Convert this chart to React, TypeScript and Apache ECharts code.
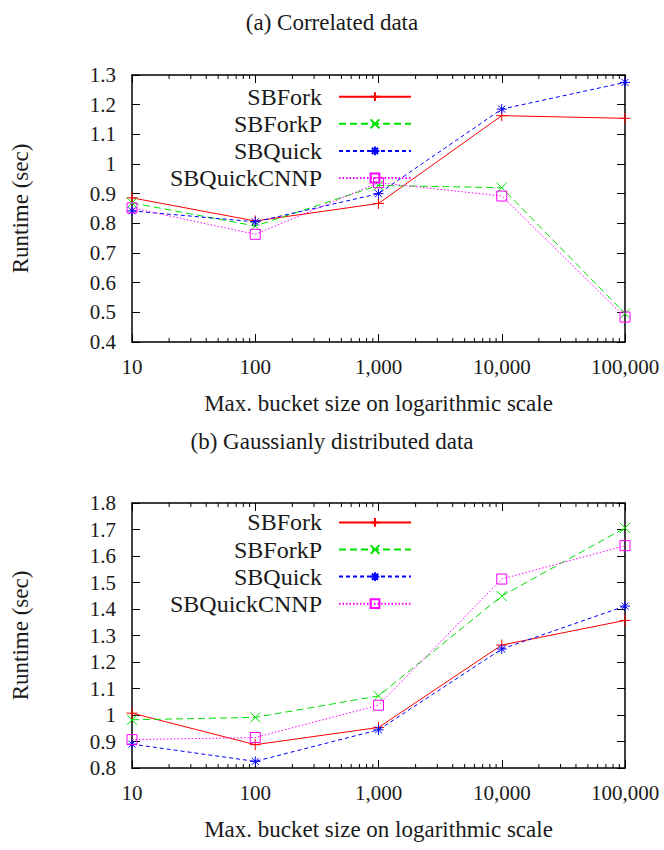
import React, { useEffect, useRef } from "react";
import * as echarts from "echarts";

const bucketSizes = [10, 100, 1000, 10000, 100000];
const seriesNames = ["SBFork", "SBForkP", "SBQuick", "SBQuickCNNP"];

// (a) Correlated data
const sbForkA = [0.886, 0.808, 0.867, 1.163, 1.154];
const sbForkPA = [0.869, 0.791, 0.928, 0.92, 0.496];
const sbQuickA = [0.842, 0.805, 0.9, 1.185, 1.275];
const sbQuickCNNPA = [0.852, 0.763, 0.937, 0.892, 0.484];

// (b) Gaussianly distributed data
const sbForkB = [1.007, 0.888, 0.953, 1.264, 1.357];
const sbForkPB = [0.982, 0.991, 1.072, 1.449, 1.706];
const sbQuickB = [0.89, 0.825, 0.944, 1.249, 1.411];
const sbQuickCNNPB = [0.907, 0.915, 1.037, 1.513, 1.639];

const minorTicks = [
  20, 30, 40, 50, 60, 70, 80, 90,
  200, 300, 400, 500, 600, 700, 800, 900,
  2000, 3000, 4000, 5000, 6000, 7000, 8000, 9000,
  20000, 30000, 40000, 50000, 60000, 70000, 80000, 90000,
];

const titleA = "(a) Correlated data";
const titleB = "(b) Gaussianly distributed data";
const xName = "Max. bucket size on logarithmic scale";
const yName = "Runtime (sec)";

const FONT = "'Liberation Serif', 'Times New Roman', serif";
const TXT = "#1a1a1a";

const styles = [
  { color: "#ff0000", type: "solid", symbol: "path://M0,5L10,5M5,0L5,10", size: 11 },
  { color: "#00e000", type: [7, 4], symbol: "path://M0,0L10,10M10,0L0,10", size: 10 },
  { color: "#0000ff", type: [4, 3], symbol: "path://M0,5L10,5M5,0L5,10M1.5,1.5L8.5,8.5M8.5,1.5L1.5,8.5", size: 10 },
  { color: "#ff00ff", type: [1.5, 2], symbol: "path://M0,0L10,0L10,10L0,10Z", size: 10 },
];

function makeLines(values: number[][], gi: number) {
  return values.map((vals, i) => ({
    type: "line",
    name: seriesNames[i],
    xAxisIndex: gi * 2,
    yAxisIndex: gi * 2,
    data: bucketSizes.map((b, j) => [b, vals[j]]),
    symbol: styles[i].symbol,
    symbolSize: styles[i].size,
    clip: false,
    color: styles[i].color,
    lineStyle: { color: styles[i].color, width: 1, type: styles[i].type },
    itemStyle: { color: "rgba(0,0,0,0)", borderColor: styles[i].color, borderWidth: 1 },
    z: 2 + i,
  }));
}

function minorTickSeries(gi: number, yMin: number, yMax: number) {
  return {
    type: "custom",
    xAxisIndex: gi * 2,
    yAxisIndex: gi * 2,
    silent: true,
    clip: false,
    z: 10,
    data: minorTicks.map((v) => [v, yMin]),
    renderItem: (params: any, api: any) => {
      const v = api.value(0);
      const b = api.coord([v, yMin]);
      const t = api.coord([v, yMax]);
      return {
        type: "group",
        children: [
          { type: "line", shape: { x1: b[0], y1: b[1], x2: b[0], y2: b[1] - 4 }, style: { stroke: "#000", lineWidth: 1 } },
          { type: "line", shape: { x1: t[0], y1: t[1], x2: t[0], y2: t[1] + 4 }, style: { stroke: "#000", lineWidth: 1 } },
        ],
      };
    },
  };
}

function xAxes(gi: number) {
  const base = {
    type: "log",
    logBase: 10,
    min: 10,
    max: 100000,
    gridIndex: gi,
    splitLine: { show: false },
    axisLine: { show: true, lineStyle: { color: "#000", width: 1.5 } },
    axisTick: { show: true, inside: true, length: 8, lineStyle: { color: "#000", width: 1 } },
  };
  return [
    {
      ...base,
      position: "bottom",
      axisLabel: {
        margin: 14,
        fontFamily: FONT,
        fontSize: 21,
        color: TXT,
        formatter: (v: number) => Math.round(v).toLocaleString("en-US"),
      },
      name: xName,
      nameLocation: "middle",
      nameGap: 50,
      nameTextStyle: { fontFamily: FONT, fontSize: 23, color: TXT },
    },
    { ...base, position: "top", axisLabel: { show: false } },
  ];
}

function yAxes(gi: number, min: number, max: number) {
  const base = {
    type: "value",
    min,
    max,
    interval: 0.1,
    gridIndex: gi,
    splitLine: { show: false },
    axisLine: { show: true, lineStyle: { color: "#000", width: 1.5 } },
    axisTick: { show: true, inside: true, length: 8, lineStyle: { color: "#000", width: 1 } },
  };
  return [
    {
      ...base,
      position: "left",
      axisLabel: {
        margin: 16,
        fontFamily: FONT,
        fontSize: 21,
        color: TXT,
        formatter: (v: number) => String(Math.round(v * 10) / 10),
      },
      name: yName,
      nameLocation: "middle",
      nameGap: 100,
      nameTextStyle: { fontFamily: FONT, fontSize: 23, color: TXT },
    },
    { ...base, position: "right", axisLabel: { show: false } },
  ];
}

function legend(gi: number, top: number) {
  return {
    show: true,
    data: seriesNames,
    orient: "vertical",
    align: "right",
    right: 252,
    top,
    padding: 0,
    itemWidth: 72,
    itemHeight: 11,
    itemGap: 3.1,
    selectedMode: false,
    textStyle: {
      fontFamily: FONT,
      fontSize: 24,
      lineHeight: 20,
      color: TXT,
      padding: [0, 12, 0, 0],
    },
  };
}

export default function App() {
  const ref = useRef<HTMLDivElement>(null);
  useEffect(() => {
    if (!ref.current) return;
    const chart = echarts.init(ref.current, null, { renderer: "svg" });
    const option: any = {
      animation: false,
      backgroundColor: "#ffffff",
      title: [
        { text: titleA, left: "center", top: 6, textStyle: { fontFamily: FONT, fontSize: 23, fontWeight: "normal", color: TXT } },
        { text: titleB, left: "center", top: 425, textStyle: { fontFamily: FONT, fontSize: 23, fontWeight: "normal", color: TXT } },
      ],
      grid: [
        { left: 132, top: 75, width: 493, height: 267, containLabel: false },
        { left: 132, top: 503, width: 493, height: 265, containLabel: false },
      ],
      xAxis: [...xAxes(0), ...xAxes(1)],
      yAxis: [...yAxes(0, 0.4, 1.3), ...yAxes(1, 0.8, 1.8)],
      legend: [legend(0, 84.7), legend(1, 510.4)],
      series: [
        ...makeLines([sbForkA, sbForkPA, sbQuickA, sbQuickCNNPA], 0),
        ...makeLines([sbForkB, sbForkPB, sbQuickB, sbQuickCNNPB], 1),
        minorTickSeries(0, 0.4, 1.3),
        minorTickSeries(1, 0.8, 1.8),
      ],
    };
    chart.setOption(option);
    return () => chart.dispose();
  }, []);
  return <div ref={ref} style={{ position: "absolute", left: 0, top: 0, width: 664, height: 850 }} />;
}
